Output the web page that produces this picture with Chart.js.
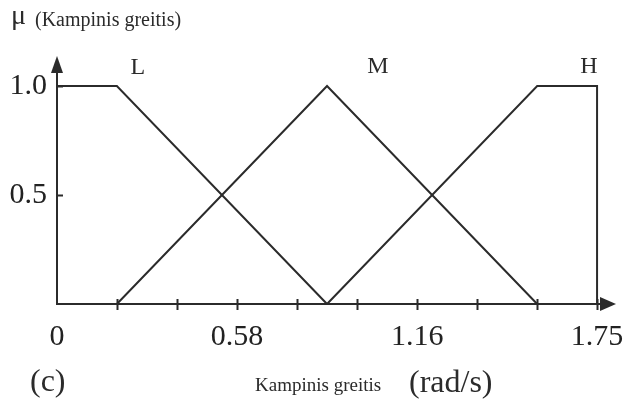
<!DOCTYPE html>
<html>
<head>
<meta charset="utf-8">
<script src="https://cdn.jsdelivr.net/npm/chart.js@4/dist/chart.umd.min.js"></script>
<style>
  html, body { margin: 0; padding: 0; background: #fff; }
  #wrap { width: 629px; height: 403px; position: relative; }
</style>
</head>
<body>
<div id="wrap"><canvas id="c" width="629" height="403"></canvas></div>
<script>
// Membership functions of the angular-speed fuzzy sets (breakpoints)
const setNames = ['L', 'M', 'H'];
const lowX  = [0, 0.194, 0.875];
const lowY  = [1, 1, 0];
const medX  = [0.194, 0.875, 1.556];
const medY  = [0, 1, 0];
const highX = [0.875, 1.556, 1.75, 1.75];
const highY = [0, 1, 1, 0];

// Axis ticks: x every 1.75/9, only some are labelled
const xTickValues = [0, 0.194, 0.389, 0.583, 0.778, 0.972, 1.167, 1.361, 1.556, 1.75];
const xTickLabels = ['0', '', '', '0.58', '', '', '1.16', '', '', '1.75'];
const yTickValues = [0.5, 1.0];
const yTickLabels = ['0.5', '1.0'];

const INK = '#2b2b2b';
const SERIF = '"Liberation Serif", "Times New Roman", serif';

const toPoints = (xs, ys) => xs.map((x, i) => ({ x: x, y: ys[i] }));

const lineStyle = {
  borderColor: INK,
  borderWidth: 2,
  pointRadius: 0,
  tension: 0,
  fill: false,
  clip: false
};

// Axis arrows, tick marks, set names and captions
const decor = {
  id: 'decor',
  afterDraw(chart) {
    const ctx = chart.ctx;
    const xs = chart.scales.x, ys = chart.scales.y;
    const a = chart.chartArea;
    ctx.save();
    ctx.strokeStyle = INK;
    ctx.fillStyle = INK;
    ctx.lineWidth = 2;

    // x ticks crossing the axis
    xTickValues.forEach((v, i) => {
      if (i === 0) return;
      const px = Math.round(xs.getPixelForValue(v)) + 0.5;
      ctx.beginPath();
      ctx.moveTo(px, a.bottom - 5);
      ctx.lineTo(px, a.bottom + 6);
      ctx.stroke();
    });
    // y ticks on the inner side
    yTickValues.forEach(v => {
      const py = Math.round(ys.getPixelForValue(v)) + 0.5;
      ctx.beginPath();
      ctx.moveTo(a.left, py);
      ctx.lineTo(a.left + 6, py);
      ctx.stroke();
    });

    // arrow heads
    ctx.beginPath();
    ctx.moveTo(a.left, a.top - 16);
    ctx.lineTo(a.left - 6, a.top + 1);
    ctx.lineTo(a.left + 6, a.top + 1);
    ctx.closePath();
    ctx.fill();
    ctx.beginPath();
    ctx.moveTo(a.right + 14, a.bottom);
    ctx.lineTo(a.right - 2, a.bottom - 7);
    ctx.lineTo(a.right - 2, a.bottom + 7);
    ctx.closePath();
    ctx.fill();

    // set names above the peaks
    const namePos = [[0.262, 1.085], [1.04, 1.09], [1.724, 1.09]];
    ctx.font = '24px ' + SERIF;
    ctx.textAlign = 'center';
    ctx.textBaseline = 'middle';
    setNames.forEach((n, i) => {
      ctx.fillText(n, xs.getPixelForValue(namePos[i][0]), ys.getPixelForValue(namePos[i][1]));
    });

    // captions
    ctx.textAlign = 'left';
    ctx.textBaseline = 'alphabetic';
    ctx.font = '28px ' + SERIF;
    ctx.fillText('\u03bc', 11, 24);
    ctx.font = '20px ' + SERIF;
    ctx.fillText('(Kampinis greitis)', 35, 26);
    ctx.font = '32px ' + SERIF;
    ctx.fillText('(c)', 30, 391);
    ctx.font = '19px ' + SERIF;
    ctx.fillText('Kampinis greitis', 255, 391);
    ctx.font = '32px ' + SERIF;
    ctx.fillText('(rad/s)', 409, 392);
    ctx.restore();
  }
};

new Chart(document.getElementById('c'), {
  type: 'line',
  data: {
    datasets: [
      Object.assign({ label: setNames[0], data: toPoints(lowX, lowY) }, lineStyle),
      Object.assign({ label: setNames[1], data: toPoints(medX, medY) }, lineStyle),
      Object.assign({ label: setNames[2], data: toPoints(highX, highY) }, lineStyle)
    ]
  },
  options: {
    responsive: false,
    animation: false,
    layout: { padding: { left: 0, right: 27, top: 72, bottom: 0 } },
    plugins: { legend: { display: false }, tooltip: { enabled: false } },
    scales: {
      x: {
        type: 'linear',
        min: 0,
        max: 1.766,
        afterFit(s) { s.height = 99; s.paddingLeft = 0; s.paddingRight = 0; },
        afterBuildTicks(s) { s.ticks = xTickValues.map(v => ({ value: v })); },
        grid: { display: false, drawTicks: false },
        border: { display: true, color: INK, width: 2 },
        ticks: {
          autoSkip: false,
          maxRotation: 0,
          padding: 15,
          color: '#222',
          font: { family: SERIF, size: 30 },
          callback: (v, i) => xTickLabels[i]
        }
      },
      y: {
        type: 'linear',
        min: 0,
        max: 1.064,
        afterFit(s) { s.width = 57; s.paddingTop = 0; s.paddingBottom = 0; },
        afterBuildTicks(s) { s.ticks = yTickValues.map(v => ({ value: v })); },
        grid: { display: false, drawTicks: false },
        border: { display: true, color: INK, width: 2 },
        ticks: {
          padding: 10,
          color: '#222',
          font: { family: SERIF, size: 30 },
          callback: (v, i) => yTickLabels[i]
        }
      }
    }
  },
  plugins: [decor]
});
</script>
</body>
</html>
